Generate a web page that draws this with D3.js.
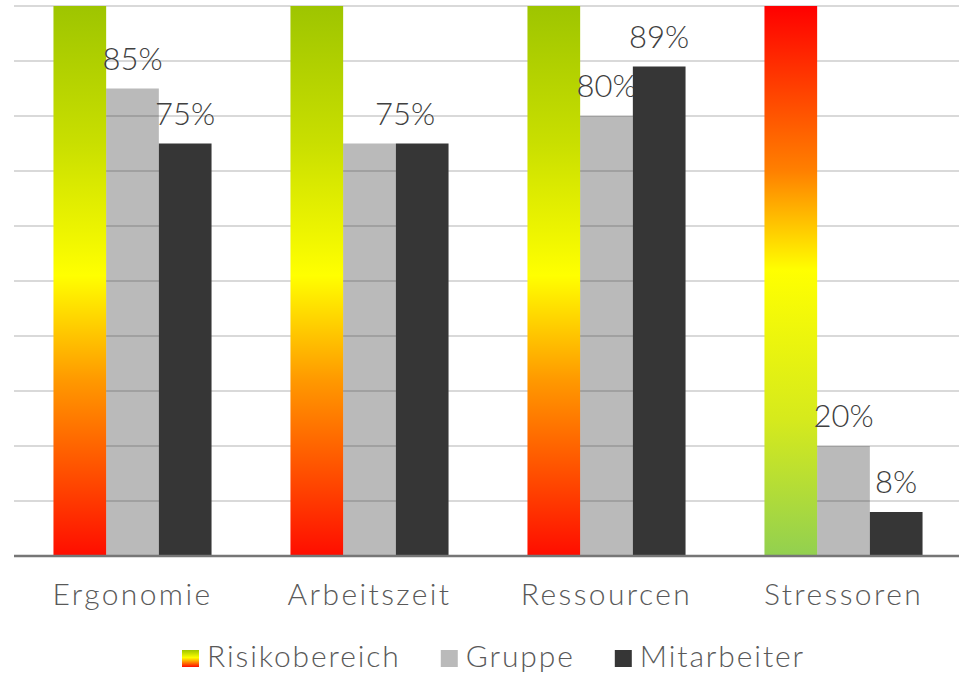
<!DOCTYPE html>
<html>
<head>
<meta charset="utf-8">
<script src="https://cdn.jsdelivr.net/npm/d3@7/dist/d3.min.js"></script>
<style>
  html, body { margin: 0; padding: 0; background: #ffffff; }
  svg text { font-family: Lato, "Open Sans", sans-serif; font-weight: 300; }
</style>
</head>
<body>
<svg id="chart" width="959" height="675"></svg>
<script>
// Categories and series values (percent)
const categories = ["Ergonomie", "Arbeitszeit", "Ressourcen", "Stressoren"];
const seriesNames = ["Risikobereich", "Gruppe", "Mitarbeiter"];
const risikobereich = [100, 100, 100, 100];
const gruppe = [85, 75, 80, 20];
const mitarbeiter = [75, 75, 89, 8];
// Which value labels are shown per series
const showGruppeLabel = [true, false, true, true];
const showMitarbeiterLabel = [true, true, true, true];
const yTicks = [0, 10, 20, 30, 40, 50, 60, 70, 80, 90, 100];

const svg = d3.select("#chart");
const W = 959, H = 675;
const plot = { left: 14, right: 962, top: 6, bottom: 556 };

const x0 = d3.scaleBand().domain(categories).range([plot.left, plot.right])
  .paddingInner(0.333).paddingOuter(0.1665);
const x1 = d3.scaleBand().domain(seriesNames).range([0, x0.bandwidth()]);
const y = d3.scaleLinear().domain([0, 100]).range([plot.bottom, plot.top]);

// Gradients: risk scale from green (low risk) through yellow to red
const defs = svg.append("defs");
function gradient(id, stops) {
  const g = defs.append("linearGradient").attr("id", id)
    .attr("x1", 0).attr("y1", 0).attr("x2", 0).attr("y2", 1);
  stops.forEach(s => g.append("stop").attr("offset", s[0]).attr("stop-color", s[1]));
}
// High value = good: green on top, red at the bottom
gradient("riskUp", [[0, "#9ec500"], [0.25, "#c9df00"], [0.49, "#ffff00"], [0.68, "#ff9900"], [1, "#ff0d00"]]);
// High value = bad (stressors): red on top, green at the bottom
gradient("riskDown", [[0, "#ff0000"], [0.3, "#ff8000"], [0.48, "#ffff00"], [0.75, "#d6ea1c"], [1, "#92d050"]]);
gradient("riskLegend", [[0, "#9ec500"], [0.45, "#ffff00"], [1, "#ff0d00"]]);

// Horizontal grid
svg.append("g").selectAll("line").data(yTicks.filter(t => t > 0)).join("line")
  .attr("x1", plot.left).attr("x2", W)
  .attr("y1", d => y(d)).attr("y2", d => y(d))
  .attr("stroke", "#d9d9d9").attr("stroke-width", 2);

const groups = svg.append("g").selectAll("g").data(categories).join("g")
  .attr("transform", d => `translate(${x0(d)},0)`);

// Risk range bars
groups.append("rect")
  .attr("x", x1("Risikobereich")).attr("width", x1.bandwidth())
  .attr("y", (d, i) => y(risikobereich[i]))
  .attr("height", (d, i) => y(0) - y(risikobereich[i]))
  .attr("fill", (d, i) => i === 3 ? "url(#riskDown)" : "url(#riskUp)");

// Group bars (translucent so the grid stays visible)
groups.append("rect")
  .attr("x", x1("Gruppe")).attr("width", x1.bandwidth())
  .attr("y", (d, i) => y(gruppe[i]))
  .attr("height", (d, i) => y(0) - y(gruppe[i]))
  .attr("fill", "#272727").attr("fill-opacity", 0.32);

const labelFont = 31;
groups.filter((d, i) => showGruppeLabel[i]).append("text")
  .attr("x", x1("Gruppe") + x1.bandwidth() / 2)
  .attr("y", d => y(gruppe[categories.indexOf(d)]) - 19)
  .attr("text-anchor", "middle").attr("font-size", labelFont).attr("fill", "#404040")
  .text(d => gruppe[categories.indexOf(d)] + "%");

// Employee bars
groups.append("rect")
  .attr("x", x1("Mitarbeiter")).attr("width", x1.bandwidth())
  .attr("y", (d, i) => y(mitarbeiter[i]))
  .attr("height", (d, i) => y(0) - y(mitarbeiter[i]))
  .attr("fill", "#363636");

// Arbeitszeit: shared label sits between both equal bars
const labelShift = [0, -17, 0, 0];
groups.filter((d, i) => showMitarbeiterLabel[i]).append("text")
  .attr("x", d => x1("Mitarbeiter") + x1.bandwidth() / 2 + labelShift[categories.indexOf(d)])
  .attr("y", d => y(mitarbeiter[categories.indexOf(d)]) - 19)
  .attr("text-anchor", "middle").attr("font-size", labelFont).attr("fill", "#404040")
  .text(d => mitarbeiter[categories.indexOf(d)] + "%");

// Category axis
const xAxis = svg.append("g").attr("transform", `translate(0,${plot.bottom})`)
  .call(d3.axisBottom(x0).tickSize(0).tickPadding(28));
xAxis.select(".domain").attr("d", `M${plot.left},0H${W}`).attr("stroke", "#767676").attr("stroke-width", 2.5);
xAxis.selectAll("text").attr("font-size", 30).attr("fill", "#595959")
  .attr("font-family", "Lato, sans-serif").attr("font-weight", 300)
  .attr("letter-spacing", 2.4).attr("dy", "0.71em");

// Legend
const legendItems = [
  { name: "Risikobereich", fill: "url(#riskLegend)" },
  { name: "Gruppe", fill: "#bababa" },
  { name: "Mitarbeiter", fill: "#363636" }
];
const legend = svg.append("g").attr("transform", "translate(0,667)");
let lx = 182;
legendItems.forEach(it => {
  legend.append("rect").attr("x", lx).attr("y", -17).attr("width", 17).attr("height", 17).attr("fill", it.fill);
  const t = legend.append("text").attr("x", lx + 25).attr("y", 0)
    .attr("font-size", 30).attr("letter-spacing", 1.9).attr("fill", "#595959").text(it.name);
  lx += 25 + t.node().getComputedTextLength() + 40;
});
</script>
</body>
</html>
